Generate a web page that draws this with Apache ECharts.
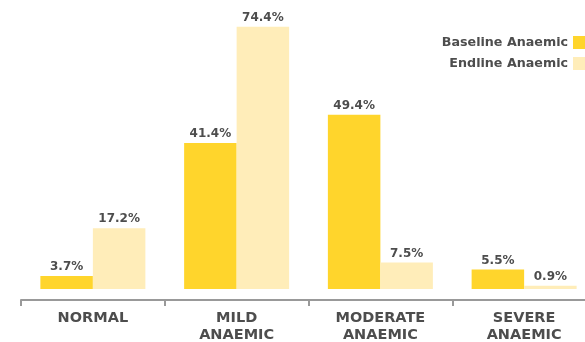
<!DOCTYPE html>
<html><head><meta charset="utf-8">
<script src="https://cdn.jsdelivr.net/npm/echarts@6/dist/echarts.min.js"></script>
<style>html,body{margin:0;padding:0;background:#fff}#c{width:585px;height:342px}</style>
</head><body><div id="c"></div>
<script>
var categories = ['NORMAL', 'MILD\nANAEMIC', 'MODERATE\nANAEMIC', 'SEVERE\nANAEMIC'];
var seriesNames = ['Baseline Anaemic', 'Endline Anaemic'];
var baseline = [3.7, 41.4, 49.4, 5.5];
var endline = [17.2, 74.4, 7.5, 0.9];

var textColor = '#4d4d4d';
var font = 'DejaVu Sans';
var chart = echarts.init(document.getElementById('c'), null, {renderer: 'canvas'});
function lbl() {
  return {show: true, position: 'top', distance: 3, color: textColor, fontFamily: font,
    fontWeight: 'bold', fontSize: 12, formatter: function (p) { return p.value.toFixed(1) + '%'; }};
}
chart.setOption({
  animation: false,
  legend: {
    orient: 'vertical', right: -7, top: 31, align: 'right',
    itemWidth: 14, itemHeight: 13, itemGap: 8,
    icon: 'rect',
    textStyle: {color: textColor, fontFamily: font, fontWeight: 'bold', fontSize: 12.7, padding: [0, 0, 0, 0]},
    data: seriesNames
  },
  grid: {left: 21, width: 575, top: 7, height: 282, containLabel: false, outerBoundsMode: 'none'},
  xAxis: {
    type: 'category', data: categories,
    offset: 11,
    axisLine: {onZero: false, lineStyle: {color: '#999', width: 2}},
    axisTick: {show: true, length: 6, lineStyle: {color: '#999', width: 2}},
    axisLabel: {color: textColor, fontFamily: font, fontWeight: 'bold', fontSize: 14.5, margin: 10, lineHeight: 17, interval: 0}
  },
  yAxis: {type: 'value', min: 0, max: 80, show: false, splitLine: {show: false}},
  series: [
    {name: seriesNames[0], type: 'bar', data: baseline, barWidth: 52.5, barGap: '0%',
      itemStyle: {color: '#FFD52C'}, label: lbl()},
    {name: seriesNames[1], type: 'bar', data: endline, barWidth: 52.5, barGap: '0%',
      itemStyle: {color: '#FFEDB9'}, label: lbl()}
  ]
});
</script></body></html>
